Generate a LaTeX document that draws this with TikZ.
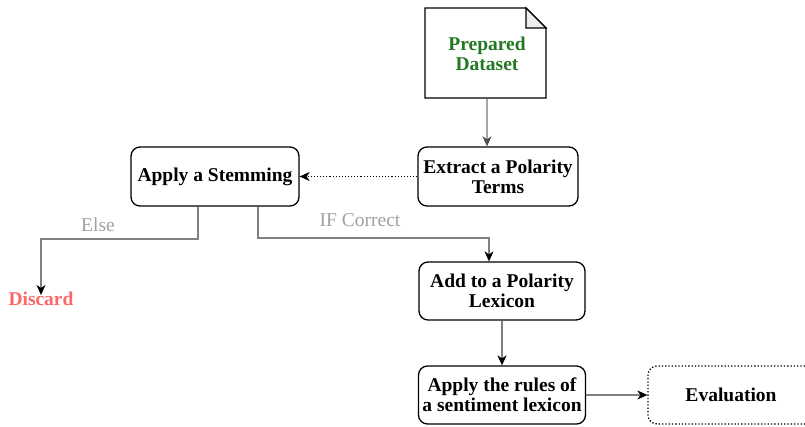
\documentclass[tikz,border=0pt]{standalone}
\usepackage{fontspec}
\setmainfont{Liberation Serif}
\usetikzlibrary{arrows.meta,calc}
\definecolor{dsgreen}{RGB}{35,120,35}
\definecolor{discred}{RGB}{255,102,102}
\definecolor{lblgray}{RGB}{160,160,160}
\definecolor{edgegray}{RGB}{128,128,128}
\tikzset{
  box/.style={draw=black, line width=1.3pt, rounded corners=9pt, align=center,
    font=\fontsize{19.5}{20}\selectfont\bfseries, inner sep=1pt},
  edge/.style={draw=edgegray, line width=1.1pt, -{Stealth[length=10pt,width=9pt,inset=3pt,black]}},
  lbl/.style={text=lblgray, font=\fontsize{19.5}{20}\selectfont, inner sep=1pt},
}
\begin{document}
\begin{tikzpicture}[x=1pt,y=-1pt]
\useasboundingbox (0,0) rectangle (805,426);
\clip (0,0) rectangle (805,426);
% document shape
\draw[line width=1.3pt, fill=white] (425,8) -- (526,8) -- (546,28) -- (546,98) -- (425,98) -- cycle;
\draw[line width=1.1pt, fill=black!7] (526,8) -- (526,28) -- (546,28) -- cycle;
\node[align=center, text=dsgreen, font=\fontsize{19.5}{20}\selectfont\bfseries, minimum width=121pt, minimum height=90pt] (ds) at (487,54) {Prepared\\Dataset};
\node[box, minimum width=160pt, minimum height=59pt] (ext) at (498,176.5) {Extract a Polarity\\Terms};
\node[box, minimum width=168pt, minimum height=59pt] (stem) at (215,176.5) {Apply a Stemming};
\node[box, minimum width=166pt, minimum height=58pt] (add) at (502,291) {Add to a Polarity\\Lexicon};
\node[box, minimum width=167pt, minimum height=58pt] (rules) at (502,395) {Apply the rules of\\a sentiment lexicon};
\node[box, dotted, minimum width=166pt, minimum height=58pt] (eval) at (731,395) {Evaluation};
\node[anchor=north, text=discred, font=\fontsize{19.5}{20}\selectfont\bfseries, inner sep=1pt] (disc) at (41,291) {Discard};
% connectors
\draw[draw=black!35, line width=2pt, -{Stealth[length=10pt,width=9pt,inset=3pt,black!70]}] (ds.south -| 487,0) -- (ext.north -| 487,0);
\draw[edge, draw=black, dotted] (ext.west) -- (stem.east);
\coordinate (e1) at (198,239);
\coordinate (c1) at (258,238);
\coordinate (c2) at (489,238);
\draw[edge, shorten >=-4pt] (stem.south -| e1) -- (e1) -| (disc.north);
\draw[edge] (stem.south -| c1) -- (c1) -- (c2) -- (add.north -| c2);
\draw[edge] (add.south) -- (rules.north);
\draw[edge] (rules.east) -- (eval.west);
\node[lbl] (else) at (98,225) {Else};
\node[lbl] (ifc) at (360,220) {IF Correct};
\end{tikzpicture}
\end{document}
